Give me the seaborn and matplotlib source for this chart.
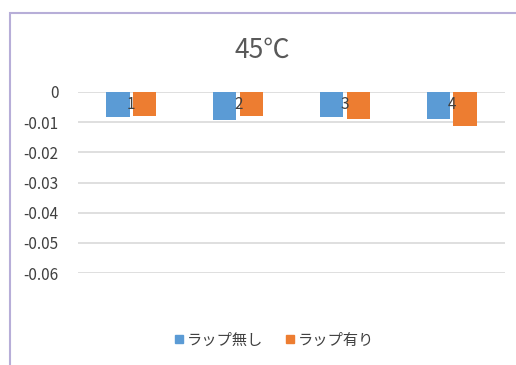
import matplotlib
matplotlib.use("Agg")
import matplotlib.pyplot as plt
from matplotlib.patches import Rectangle
from matplotlib.lines import Line2D
import seaborn as sns
import pandas as pd

# Data
categories = ["1", "2", "3", "4"]
series_names = ["ラップ無し", "ラップ有り"]
no_wrap = [-0.0083, -0.0092, -0.0083, -0.0090]
with_wrap = [-0.0079, -0.0081, -0.0090, -0.0112]
y_ticks = [0, -0.01, -0.02, -0.03, -0.04, -0.05, -0.06]
y_tick_labels = ["0", "-0.01", "-0.02", "-0.03", "-0.04", "-0.05", "-0.06"]
title = "45℃"

colors = ["#5B9BD5", "#ED7D31"]

df = pd.DataFrame({
    "cat": categories * 2,
    "series": [series_names[0]] * len(categories) + [series_names[1]] * len(categories),
    "value": no_wrap + with_wrap,
})

sns.set_theme(style="white")
plt.rcParams["font.family"] = ["Noto Sans CJK JP", "DejaVu Sans"]

fig = plt.figure(figsize=(5.16, 3.65), dpi=100)
ax = fig.add_axes([0.151, 0.252, 0.828, 0.496])

sns.barplot(data=df, x="cat", y="value", hue="series", hue_order=series_names,
            order=categories, palette=colors, width=0.5, gap=0.13,
            saturation=1, legend=False, linewidth=0, ax=ax)

ax.set_ylim(-0.06, 0)
ax.set_xlim(-0.5, len(categories) - 0.5)
ax.set_yticks(y_ticks)
ax.set_yticklabels(y_tick_labels, color="#404040", fontsize=11)
ax.tick_params(axis="y", length=0, pad=14)
ax.set_xticks([])
ax.set_xlabel("")
ax.set_ylabel("")
ax.yaxis.grid(True, color="#d9d9d9", linewidth=1.2)
ax.set_axisbelow(True)
for s in ax.spines.values():
    s.set_visible(False)

# category labels sit just under the zero line
for i, c in enumerate(categories):
    ax.text(i, -0.0013, c, ha="center", va="top", fontsize=11, color="#404040")

fig.text(0.508, 0.862, title, ha="center", va="center", fontsize=19, color="#595959")

handles = [Line2D([], [], marker="s", linestyle="", markersize=6,
                  markerfacecolor=col, markeredgecolor=col) for col in colors]
fig.legend(handles, series_names, loc="center", bbox_to_anchor=(0.53, 0.068),
           ncol=2, frameon=False, fontsize=11, handletextpad=0.1,
           columnspacing=1.4, labelcolor="#404040", handlelength=0.8)

# chart frame
fig.patches.append(Rectangle((10 / 516, -0.1), 1.2, 1 - 13 / 365 + 0.1,
                             transform=fig.transFigure, fill=False,
                             edgecolor="#b7aed8", linewidth=1.5))

fig.savefig("out.png", dpi=100, facecolor="white")
